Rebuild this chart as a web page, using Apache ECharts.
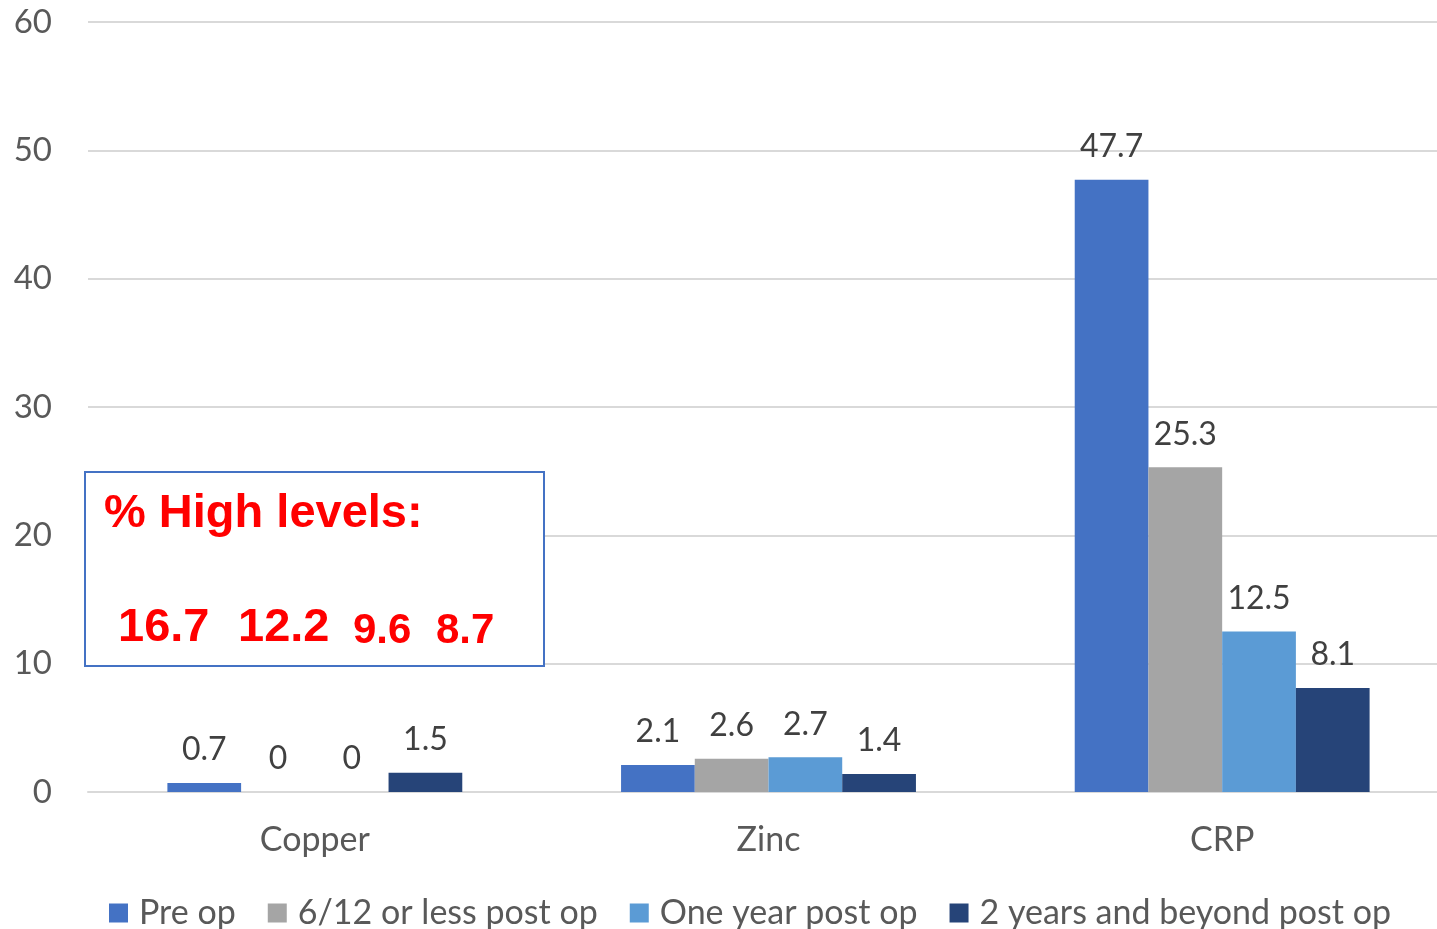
<!DOCTYPE html>
<html>
<head>
<meta charset="utf-8">
<style>
  html, body { margin: 0; padding: 0; background: #ffffff; overflow: hidden; }
  /* the plot area runs a little past the right edge of the window */
  #chart { width: 1449px; height: 929px; }
</style>
<script src="https://cdn.jsdelivr.net/npm/echarts@6/dist/echarts.min.js"></script>
</head>
<body>
<div id="chart"></div>
<script>
// Markers measured at each time point
const categories = ['Copper', 'Zinc', 'CRP'];
const seriesNames = ['Pre op', '6/12 or less post op', 'One year post op', '2 years and beyond post op'];
const preOp = [0.7, 2.1, 47.7];
const sixMonths = [0, 2.6, 25.3];
const oneYear = [0, 2.7, 12.5];
const twoYears = [1.5, 1.4, 8.1];
const yTicks = [0, 10, 20, 30, 40, 50, 60];

// Share of patients with high levels, per time point
const highLevelsTitle = '% High levels:';
const highLevels = [16.7, 12.2, 9.6, 8.7];

const colors = ['#4472C4', '#A5A5A5', '#5B9BD5', '#264478'];
const textColor = '#595959';
const fontFamily = 'Lato, "Noto Sans", sans-serif';

const chart = echarts.init(document.getElementById('chart'), null, { renderer: 'canvas' });

const values = [preOp, sixMonths, oneYear, twoYears];
const series = seriesNames.map((name, i) => ({
  name: name,
  type: 'bar',
  data: values[i],
  barGap: '0%',
  barCategoryGap: '35%',
  itemStyle: { color: colors[i] },
  label: {
    show: true,
    position: 'top',
    distance: 17,
    color: '#404040',
    fontFamily: fontFamily,
    fontSize: 32
  }
}));

// Annotation box with the high-level percentages
const numberX = [118, 238, 353, 436];
const numberSize = [47, 47, 42, 42];
const graphic = [
  {
    type: 'rect',
    left: 84, top: 471,
    shape: { width: 459, height: 194 },
    style: { fill: '#ffffff', stroke: '#4472C4', lineWidth: 2 },
    z: 100
  },
  {
    type: 'text',
    left: 104, top: 491,
    style: {
      text: highLevelsTitle,
      fill: '#FF0000',
      font: 'bold 47px "Liberation Sans", Arial, sans-serif'
    },
    z: 101
  }
].concat(highLevels.map((v, i) => ({
  type: 'text',
  x: numberX[i],
  y: 652,
  style: {
    text: v.toFixed(1),
    fill: '#FF0000',
    font: 'bold ' + numberSize[i] + 'px "Liberation Sans", Arial, sans-serif',
    textVerticalAlign: 'bottom'
  },
  z: 101
})));

chart.setOption({
  animation: false,
  backgroundColor: '#ffffff',
  color: colors,
  grid: { left: 88, right: 0, top: 22, bottom: 137, containLabel: false },
  legend: {
    data: seriesNames,
    left: 104,
    top: 891,
    itemWidth: 19,
    itemHeight: 19,
    itemGap: 32,
    icon: 'rect',
    textStyle: {
      color: textColor, fontFamily: fontFamily, fontSize: 34,
      padding: [0, 0, 0, 6]
    }
  },
  xAxis: {
    type: 'category',
    data: categories,
    axisLine: { show: true, lineStyle: { color: '#D9D9D9', width: 2 } },
    axisTick: { show: false },
    axisLabel: { color: textColor, fontFamily: fontFamily, fontSize: 34, margin: 31 }
  },
  yAxis: {
    type: 'value',
    min: yTicks[0],
    max: yTicks[yTicks.length - 1],
    interval: 10,
    axisLine: { show: false },
    axisTick: { show: false },
    splitLine: { lineStyle: { color: '#D9D9D9', width: 2 } },
    axisLabel: { color: textColor, fontFamily: fontFamily, fontSize: 33, margin: 36 }
  },
  series: series,
  graphic: graphic
});
</script>
</body>
</html>
